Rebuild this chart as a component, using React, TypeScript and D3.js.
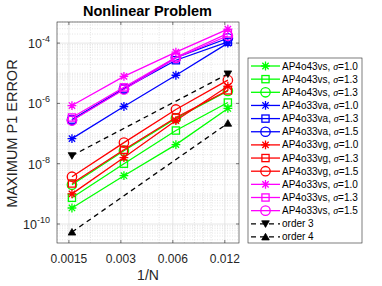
import * as React from 'react';
import * as d3 from 'd3';

// mesh sizes (1/N) and tick values
const xValues = [1 / 640, 1 / 320, 1 / 160, 1 / 80];
const xTicks = [0.0015, 0.003, 0.006, 0.012];
const xTickLabels = ['0.0015', '0.003', '0.006', '0.012'];
const yTickExps = [-4, -6, -8, -10];

// errors
const ap4o43vs10 = [3.4e-10, 4.0e-9, 4.3e-8, 6.8e-7];
const ap4o43vs13 = [7.4e-10, 1.0e-8, 1.26e-7, 1.07e-6];
const ap4o43vs13b = [2.0e-9, 2.7e-8, 3.2e-7, 2.6e-6];
const ap4o33va10 = [6.8e-8, 7.9e-7, 8.6e-6, 1.0e-4];
const ap4o33va13 = [2.9e-7, 3.1e-6, 2.7e-5, 1.1e-4];
const ap4o33va15 = [2.8e-7, 3.0e-6, 3.3e-5, 1.45e-4];
const ap4o33vg10 = [1.0e-9, 1.6e-8, 2.7e-7, 3.7e-6];
const ap4o33vg13 = [2.2e-9, 2.9e-8, 3.4e-7, 2.7e-6];
const ap4o33vg15 = [3.7e-9, 5.0e-8, 6.3e-7, 5.9e-6];
const ap4o33vs10 = [8.5e-7, 7.9e-6, 5.0e-5, 2.9e-4];
const ap4o33vs13 = [3.4e-7, 3.4e-6, 3.4e-5, 2.1e-4];
const ap4o33vs15 = [2.7e-7, 2.9e-6, 3.2e-5, 1.75e-4];
const order3X = [1 / 640, 1 / 80];
const order3 = [1.85e-8, 9.5e-6];
const order4X = [1 / 640, 1 / 80];
const order4 = [5.4e-11, 2.2e-7];

type Series = {name: string; sigma: string; color: string; marker: string; dashed?: boolean; xs: number[]; ys: number[]};

const series: Series[] = [
  {name: 'AP4o43vs, ', sigma: '1.0', color: '#00ff00', marker: 'star', xs: xValues, ys: ap4o43vs10},
  {name: 'AP4o43vs, ', sigma: '1.3', color: '#00ff00', marker: 'square', xs: xValues, ys: ap4o43vs13},
  {name: 'AP4o43vs, ', sigma: '1.3', color: '#00ff00', marker: 'circle', xs: xValues, ys: ap4o43vs13b},
  {name: 'AP4o33va, ', sigma: '1.0', color: '#0000ff', marker: 'star', xs: xValues, ys: ap4o33va10},
  {name: 'AP4o33va, ', sigma: '1.3', color: '#0000ff', marker: 'square', xs: xValues, ys: ap4o33va13},
  {name: 'AP4o33va, ', sigma: '1.5', color: '#0000ff', marker: 'circle', xs: xValues, ys: ap4o33va15},
  {name: 'AP4o33vg, ', sigma: '1.0', color: '#ff0000', marker: 'star', xs: xValues, ys: ap4o33vg10},
  {name: 'AP4o33vg, ', sigma: '1.3', color: '#ff0000', marker: 'square', xs: xValues, ys: ap4o33vg13},
  {name: 'AP4o33vg, ', sigma: '1.5', color: '#ff0000', marker: 'circle', xs: xValues, ys: ap4o33vg15},
  {name: 'AP4o33vs, ', sigma: '1.0', color: '#ff00ff', marker: 'star', xs: xValues, ys: ap4o33vs10},
  {name: 'AP4o33vs, ', sigma: '1.3', color: '#ff00ff', marker: 'square', xs: xValues, ys: ap4o33vs13},
  {name: 'AP4o33vs, ', sigma: '1.5', color: '#ff00ff', marker: 'circle', xs: xValues, ys: ap4o33vs15},
  {name: 'order 3', sigma: '', color: '#000000', marker: 'down', dashed: true, xs: order3X, ys: order3},
  {name: 'order 4', sigma: '', color: '#000000', marker: 'up', dashed: true, xs: order4X, ys: order4}
];

const FONT = '"Liberation Sans", Arial, Helvetica, sans-serif';

function drawMarker(g: any, kind: string, x: number, y: number, color: string) {
  if (kind === 'star') {
    const r = 4.4;
    const d = r * 0.72;
    g.append('path')
      .attr('d', `M${x - r},${y}H${x + r}M${x},${y - r}V${y + r}M${x - d},${y - d}L${x + d},${y + d}M${x - d},${y + d}L${x + d},${y - d}`)
      .attr('stroke', color).attr('stroke-width', 1.3).attr('fill', 'none');
  } else if (kind === 'square') {
    g.append('rect')
      .attr('x', x - 3.6).attr('y', y - 3.6).attr('width', 7.2).attr('height', 7.2)
      .attr('stroke', color).attr('stroke-width', 1.3).attr('fill', 'none');
  } else if (kind === 'circle') {
    g.append('circle')
      .attr('cx', x).attr('cy', y).attr('r', 4.7)
      .attr('stroke', color).attr('stroke-width', 1.3).attr('fill', 'none');
  } else {
    const s = kind === 'up' ? -1 : 1;
    g.append('path')
      .attr('d', `M${x - 3.8},${y - s * 3}L${x + 3.8},${y - s * 3}L${x},${y + s * 3.6}Z`)
      .attr('fill', color).attr('stroke', color).attr('stroke-width', 0.8);
  }
}

export default function App() {
  const ref = React.useRef<SVGSVGElement>(null);

  React.useEffect(() => {
    const svg = d3.select(ref.current);
    svg.selectAll('*').remove();

    const margin = {left: 57, top: 22, right: 239, bottom: 243};

    const xScale = d3.scaleLog().base(2)
      .domain([0.00128, 0.0145])
      .range([margin.left, margin.right]);
    const yScale = d3.scaleLog()
      .domain([Math.pow(10, -10.63), Math.pow(10, -3.3)])
      .range([margin.bottom, margin.top]);

    const plot = svg.append('g');
    plot.append('rect')
      .attr('x', margin.left).attr('y', margin.top)
      .attr('width', margin.right - margin.left).attr('height', margin.bottom - margin.top)
      .attr('fill', 'white');

    // minor grid
    const yMinor: number[] = [];
    for (let e = -11; e <= -3; e++) {
      for (let m = 1; m <= 9; m++) {
        const v = m * Math.pow(10, e);
        if (v > yScale.domain()[0] && v < yScale.domain()[1] && !(m === 1 && e % 2 === 0)) yMinor.push(v);
      }
    }
    const xMinor = [0.002, 0.004, 0.005, 0.007, 0.008, 0.009, 0.01];
    const grid = plot.append('g').attr('stroke', '#d4d4d4').attr('stroke-width', 0.6);
    grid.selectAll('.ym').data(yMinor).enter().append('line')
      .attr('x1', margin.left).attr('x2', margin.right)
      .attr('y1', d => yScale(d)).attr('y2', d => yScale(d))
      .attr('stroke-dasharray', '1,1.5');
    grid.selectAll('.xm').data(xMinor).enter().append('line')
      .attr('y1', margin.top).attr('y2', margin.bottom)
      .attr('x1', d => xScale(d)).attr('x2', d => xScale(d))
      .attr('stroke-dasharray', '1,1.5');

    // major grid
    const major = plot.append('g').attr('stroke', '#e0e0e0').attr('stroke-width', 0.8);
    major.selectAll('.yM').data(yTickExps).enter().append('line')
      .attr('x1', margin.left).attr('x2', margin.right)
      .attr('y1', d => yScale(Math.pow(10, d))).attr('y2', d => yScale(Math.pow(10, d)));
    major.selectAll('.xM').data(xTicks).enter().append('line')
      .attr('y1', margin.top).attr('y2', margin.bottom)
      .attr('x1', d => xScale(d)).attr('x2', d => xScale(d));

    // data lines and markers
    const line = d3.line<[number, number]>()
      .x(d => xScale(d[0]))
      .y(d => yScale(d[1]));

    series.forEach(s => {
      const pts = s.xs.map((x, i) => [x, s.ys[i]] as [number, number]);
      const g = plot.append('g');
      g.append('path')
        .attr('d', line(pts))
        .attr('fill', 'none')
        .attr('stroke', s.color)
        .attr('stroke-width', 1.3)
        .attr('stroke-dasharray', s.dashed ? '5,4' : null);
      pts.forEach(p => drawMarker(g, s.marker, xScale(p[0]), yScale(p[1]), s.color));
    });

    // axes box and ticks
    const axes = svg.append('g').attr('stroke', '#262626').attr('stroke-width', 0.6);
    axes.append('rect')
      .attr('x', margin.left).attr('y', margin.top)
      .attr('width', margin.right - margin.left).attr('height', margin.bottom - margin.top)
      .attr('fill', 'none');
    xTicks.forEach(t => {
      const x = xScale(t);
      axes.append('line').attr('x1', x).attr('x2', x).attr('y1', margin.bottom).attr('y2', margin.bottom - 3);
      axes.append('line').attr('x1', x).attr('x2', x).attr('y1', margin.top).attr('y2', margin.top + 3);
    });
    yTickExps.forEach(e => {
      const y = yScale(Math.pow(10, e));
      axes.append('line').attr('x1', margin.left).attr('x2', margin.left + 3).attr('y1', y).attr('y2', y);
      axes.append('line').attr('x1', margin.right).attr('x2', margin.right - 3).attr('y1', y).attr('y2', y);
    });

    // tick labels
    svg.append('g').selectAll('text').data(xTicks).enter().append('text')
      .attr('x', d => xScale(d)).attr('y', 263)
      .attr('text-anchor', 'middle')
      .attr('font-family', FONT).attr('font-size', 12).attr('fill', '#262626')
      .text((d, i) => xTickLabels[i]);

    const yLabels = svg.append('g').selectAll('text').data(yTickExps).enter().append('text')
      .attr('x', 50).attr('y', d => yScale(Math.pow(10, d)) + 5)
      .attr('text-anchor', 'end')
      .attr('font-family', FONT).attr('font-size', 12.5).attr('fill', '#262626');
    yLabels.append('tspan').text('10');
    yLabels.append('tspan').attr('dy', -6).attr('font-size', 9).text(d => String(d));

    // axis labels and title
    svg.append('text')
      .attr('x', (margin.left + margin.right) / 2).attr('y', 280)
      .attr('text-anchor', 'middle')
      .attr('font-family', FONT).attr('font-size', 14).attr('fill', '#262626')
      .text('1/N');
    svg.append('text')
      .attr('transform', `translate(17,${(margin.top + margin.bottom) / 2 + 1}) rotate(-90)`)
      .attr('text-anchor', 'middle')
      .attr('font-family', FONT).attr('font-size', 14.5).attr('fill', '#262626')
      .text('MAXIMUM P1 ERROR');
    svg.append('text')
      .attr('x', (margin.left + margin.right) / 2 - 0.5).attr('y', 16)
      .attr('text-anchor', 'middle')
      .attr('font-family', FONT).attr('font-size', 14.5).attr('font-weight', 'bold').attr('fill', '#000')
      .text('Nonlinear Problem');

    // legend
    const lx = 248, ly = 58, lw = 114, lh = 185, rowH = 13.15;
    const legend = svg.append('g');
    legend.append('rect')
      .attr('x', lx).attr('y', ly).attr('width', lw).attr('height', lh)
      .attr('fill', 'white').attr('stroke', '#262626').attr('stroke-width', 0.6);
    series.forEach((s, i) => {
      const y = ly + 8 + i * rowH;
      const g = legend.append('g');
      g.append('line')
        .attr('x1', lx + 3).attr('x2', lx + 32).attr('y1', y).attr('y2', y)
        .attr('stroke', s.color).attr('stroke-width', 1.3)
        .attr('stroke-dasharray', s.dashed ? '5,4' : null);
      drawMarker(g, s.marker, lx + 17.5, y, s.color);
      const t = g.append('text')
        .attr('x', lx + 34).attr('y', y + 3.5)
        .attr('font-family', FONT).attr('font-size', 10).attr('fill', '#000');
      t.append('tspan').text(s.name);
      if (s.sigma) {
        t.append('tspan').attr('font-family', '"Liberation Serif", "DejaVu Serif", serif').attr('font-style', 'italic').text('σ');
        t.append('tspan').text('=' + s.sigma);
      }
    });
  }, []);

  return (
    <svg ref={ref} width={382} height={286}
      style={{position: 'absolute', left: 0, top: 0, background: 'white'}} />
  );
}
